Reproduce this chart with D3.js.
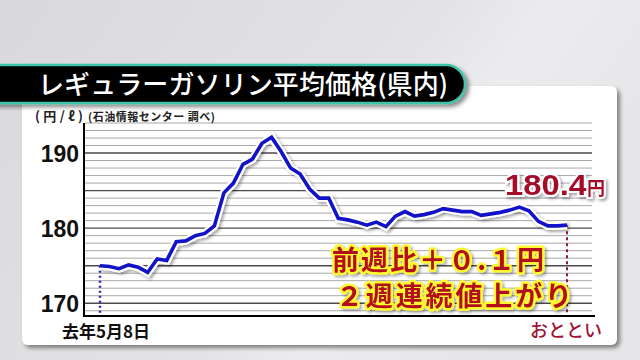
<!DOCTYPE html>
<html>
<head>
<meta http-equiv="Content-type" content="text/html; charset=utf-8">
<title>レギュラーガソリン平均価格</title>
<script src="https://cdn.jsdelivr.net/npm/d3@7"></script>
<style>
  body { margin: 0; overflow: hidden; }
  svg { display: block; }
</style>
</head>
<body>
<script>
// weekly average price, yen per litre
var prices = [175.0, 174.9, 174.6, 175.1, 174.8, 174.1, 175.9, 175.7, 178.2, 178.3,
              179.0, 179.3, 180.3, 184.7, 186.0, 188.5, 189.2, 191.3, 192.1, 190.2,
              188.0, 187.2, 185.2, 184.0, 184.0, 181.3, 181.1, 180.8, 180.4, 180.8,
              180.2, 181.6, 182.2, 181.6, 181.8, 182.1, 182.6, 182.4, 182.2, 182.2,
              181.7, 181.9, 182.1, 182.4, 182.8, 182.3, 180.9, 180.3, 180.3, 180.4];
var yTicks = [170, 180, 190];
var gridValues = d3.range(169, 195);
var startLabel = "去年5月8日";
var endLabel = "おととい";
var latestLabel = "180.4";
var noteLines = ["前週比＋０.１円", "２週連続値上がり"];

var W = 640, H = 360;
var jp = "'Noto Sans CJK JP', 'Noto Sans', sans-serif";
var num = "'Liberation Sans', Arial, sans-serif";

var svg = d3.select("body").append("svg").attr("width", W).attr("height", H);
var defs = svg.append("defs");

var bg = defs.append("linearGradient").attr("id", "bg").attr("x1", 0).attr("y1", 0).attr("x2", 1).attr("y2", 0.4);
bg.append("stop").attr("offset", "0").attr("stop-color", "#d9d9db");
bg.append("stop").attr("offset", "0.6").attr("stop-color", "#e3e3e5");
bg.append("stop").attr("offset", "0.75").attr("stop-color", "#ececee");
bg.append("stop").attr("offset", "1").attr("stop-color", "#e6e6e8");

var sh = defs.append("filter").attr("id", "shadow").attr("x", "-10%").attr("y", "-10%").attr("width", "130%").attr("height", "130%");
sh.append("feDropShadow").attr("dx", 3).attr("dy", 3).attr("stdDeviation", 2).attr("flood-color", "#000").attr("flood-opacity", 0.45);

var sh2 = defs.append("filter").attr("id", "soft").attr("x", "-10%").attr("y", "-20%").attr("width", "130%").attr("height", "150%");
sh2.append("feDropShadow").attr("dx", 2).attr("dy", 2).attr("stdDeviation", 1.5).attr("flood-color", "#000").attr("flood-opacity", 0.35);

svg.append("rect").attr("width", W).attr("height", H).attr("fill", "url(#bg)");

// white panel
svg.append("rect").attr("x", 22).attr("y", 86).attr("width", 595).attr("height", 259)
  .attr("rx", 6).attr("fill", "#fff").attr("filter", "url(#shadow)");

// title bar
svg.append("path")
  .attr("d", "M-10,65 L446,65 A19,19 0 0 1 446,103 L-10,103 Z")
  .attr("fill", "#000").attr("stroke", "#3fc3a9").attr("stroke-width", 2.5)
  .attr("filter", "url(#shadow)");
svg.append("text").attr("x", 38).attr("y", 94)
  .attr("font-family", jp).attr("font-size", 26).attr("font-weight", 500)
  .attr("fill", "#fff").attr("textLength", 410)
  .text("レギュラーガソリン平均価格(県内)");

// scales
var x = d3.scaleLinear().domain([0, prices.length - 1]).range([100, 567]);
var y = d3.scaleLinear().domain([168.3, 194]).range([316, 123]);

// gridlines
svg.append("g").selectAll("line").data(gridValues).enter().append("line")
  .attr("x1", 85).attr("x2", 592)
  .attr("y1", function(d) { return y(d); }).attr("y2", function(d) { return y(d); })
  .attr("stroke", function(d) { return d % 5 === 0 ? "#4a4a4a" : "#a8a8a8"; })
  .attr("stroke-width", function(d) { return d % 5 === 0 ? 1.4 : 1; });

// axes
svg.append("line").attr("x1", 84).attr("x2", 84).attr("y1", y(194)).attr("y2", 317)
  .attr("stroke", "#000").attr("stroke-width", 2);
svg.append("line").attr("x1", 83).attr("x2", 595).attr("y1", 316).attr("y2", 316)
  .attr("stroke", "#000").attr("stroke-width", 2);

var yAxis = svg.append("g").attr("transform", "translate(80,0)")
  .call(d3.axisLeft(y).tickValues(yTicks).tickSize(0).tickFormat(d3.format("d")));
yAxis.select(".domain").remove();
yAxis.selectAll("text").attr("font-family", num).attr("font-size", 23)
  .attr("font-weight", "bold").attr("fill", "#111").attr("dx", "2").attr("dy", "0.36em");

// unit + source
svg.append("text").attr("x", 35).attr("y", 121).attr("font-family", jp)
  .attr("font-size", 13).attr("font-weight", "bold").attr("fill", "#222").attr("textLength", 48)
  .text("(円/ℓ)");
svg.append("text").attr("x", 88).attr("y", 121).attr("font-family", jp)
  .attr("font-size", 11).attr("font-weight", "bold").attr("fill", "#222").attr("textLength", 127)
  .text("(石油情報センター 調べ)");

// dotted drop lines
var last = prices.length - 1;
svg.append("line").attr("x1", x(0)).attr("x2", x(0)).attr("y1", y(prices[0])).attr("y2", 315)
  .attr("stroke", "#2a2aa8").attr("stroke-width", 2.5).attr("stroke-dasharray", "2,3");
svg.append("line").attr("x1", x(last)).attr("x2", x(last)).attr("y1", y(prices[last])).attr("y2", 315)
  .attr("stroke", "#8a1a3c").attr("stroke-width", 2).attr("stroke-dasharray", "3,3");

// price line with white halo
var line = d3.line().x(function(d, i) { return x(i); }).y(function(d) { return y(d); });
svg.append("path").datum(prices).attr("d", line).attr("fill", "none")
  .attr("stroke", "#fff").attr("stroke-width", 8).attr("stroke-linejoin", "miter")
  .attr("filter", "url(#soft)");
svg.append("path").datum(prices).attr("d", line).attr("fill", "none")
  .attr("stroke", "#1212c8").attr("stroke-width", 3.6).attr("stroke-linejoin", "miter");

// bottom labels
svg.append("text").attr("x", 106).attr("y", 338).attr("text-anchor", "middle")
  .attr("font-family", jp).attr("font-size", 17).attr("font-weight", "bold").attr("fill", "#111")
  .text(startLabel);
svg.append("text").attr("x", 566).attr("y", 337).attr("text-anchor", "middle")
  .attr("font-family", jp).attr("font-size", 18).attr("font-weight", 500).attr("fill", "#a01535")
  .text(endLabel);

// latest value
var latest = svg.append("text").attr("x", 505).attr("y", 195)
  .attr("font-family", num).attr("font-weight", "bold").attr("fill", "#a3102c")
  .attr("stroke", "#fff").attr("stroke-width", 4).attr("paint-order", "stroke")
  .attr("filter", "url(#soft)");
latest.append("tspan").attr("font-size", 29).attr("textLength", 82).attr("lengthAdjust", "spacingAndGlyphs").text(latestLabel);
latest.append("tspan").attr("font-family", jp).attr("font-size", 18).text("円");

// note
var notes = svg.append("g").attr("filter", "url(#soft)");
notes.selectAll("text").data(noteLines).enter().append("text")
  .attr("x", function(d, i) { return i === 0 ? 332 : 336; })
  .attr("y", function(d, i) { return i === 0 ? 270 : 306; })
  .attr("textLength", function(d, i) { return i === 0 ? 212 : 236; })
  .attr("font-family", jp).attr("font-size", 27).attr("font-weight", "bold")
  .attr("fill", "#b4101e").attr("stroke", "#fff830").attr("stroke-width", 5)
  .attr("stroke-linejoin", "round").attr("paint-order", "stroke")
  .text(function(d) { return d; });
</script>
</body>
</html>
